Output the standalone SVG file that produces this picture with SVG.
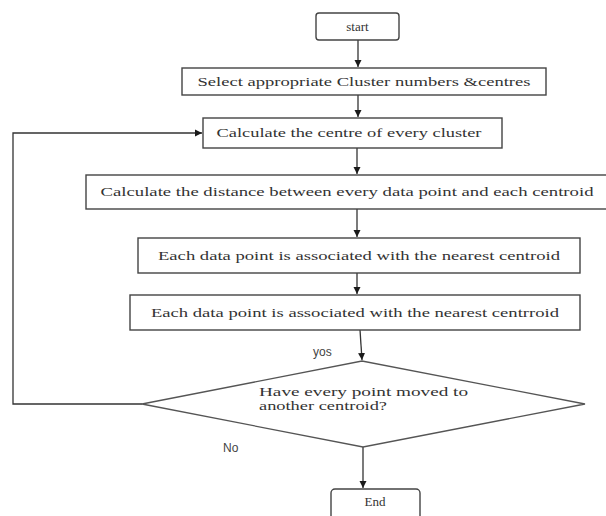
<svg xmlns="http://www.w3.org/2000/svg" width="606" height="516" viewBox="0 0 606 516">
<defs>
<marker id="ah" markerWidth="8" markerHeight="8" refX="7" refY="4" orient="auto" markerUnits="userSpaceOnUse">
<path d="M0,0.5 L7,4 L0,7.5 Z" fill="#1a1a1a"/>
</marker>
<style>
.box{fill:#fff;stroke:#444;stroke-width:1.4}
.t{font-family:"Liberation Serif","DejaVu Serif",serif;font-size:13px;fill:#333}
.s{font-family:"Liberation Sans","DejaVu Sans",sans-serif;font-size:12px;fill:#444}
.c{fill:none;stroke:#333;stroke-width:1.3}
</style>
</defs>
<rect width="606" height="516" fill="#fff"/>
<g id="connectors">
<line class="c" x1="358" y1="40" x2="358" y2="67" marker-end="url(#ah)"/>
<line class="c" x1="358" y1="95" x2="358" y2="117" marker-end="url(#ah)"/>
<line class="c" x1="357" y1="148" x2="357" y2="174" marker-end="url(#ah)"/>
<line class="c" x1="357" y1="209" x2="357" y2="237" marker-end="url(#ah)"/>
<line class="c" x1="357" y1="273" x2="357" y2="294" marker-end="url(#ah)"/>
<line class="c" x1="360" y1="330" x2="362" y2="360" marker-end="url(#ah)"/>
<line class="c" x1="363" y1="447" x2="363" y2="488" marker-end="url(#ah)"/>
<polyline class="c" points="142,404 13,404 13,133 202,133" marker-end="url(#ah)"/>
</g>
<g id="start">
<rect class="box" x="316" y="13" width="83" height="27" rx="3"/>
<text class="t" x="357.5" y="31" text-anchor="middle" font-size="12">start</text>
</g>
<g id="select">
<rect class="box" x="182" y="68" width="364" height="27"/>
<text class="t" x="364" y="86" text-anchor="middle" textLength="333" lengthAdjust="spacingAndGlyphs">Select appropriate Cluster numbers &amp;centres</text>
</g>
<g id="calc-centre">
<rect class="box" x="203" y="118" width="299" height="30"/>
<text class="t" x="349" y="137" text-anchor="middle" textLength="265" lengthAdjust="spacingAndGlyphs">Calculate the centre of every cluster</text>
</g>
<g id="calc-distance">
<rect class="box" x="86" y="175" width="530" height="34"/>
<text class="t" x="347" y="196" text-anchor="middle" textLength="493" lengthAdjust="spacingAndGlyphs">Calculate the distance between every data point and each centroid</text>
</g>
<g id="assoc1">
<rect class="box" x="138" y="238" width="442" height="35"/>
<text class="t" x="359" y="260" text-anchor="middle" textLength="402" lengthAdjust="spacingAndGlyphs">Each data point is associated with the nearest centroid</text>
</g>
<g id="assoc2">
<rect class="box" x="130" y="295" width="450" height="35"/>
<text class="t" x="355" y="317" text-anchor="middle" textLength="408" lengthAdjust="spacingAndGlyphs">Each data point is associated with the nearest centrroid</text>
</g>
<g id="decision">
<polygon points="142,404 362,361 585,404 363,447" fill="#fff" stroke="#555" stroke-width="1.3"/>
<text class="t" x="259" y="396" font-size="12" textLength="209" lengthAdjust="spacingAndGlyphs">Have every point moved to</text>
<text class="t" x="259" y="410" font-size="12" textLength="128" lengthAdjust="spacingAndGlyphs">another centroid?</text>
</g>
<g id="end">
<rect class="box" x="331" y="489" width="89" height="35" rx="4"/>
<text class="t" x="375" y="506" text-anchor="middle" font-size="12">End</text>
</g>
<text class="s" x="313" y="356">yos</text>
<text class="s" x="223" y="452">No</text>
</svg>
